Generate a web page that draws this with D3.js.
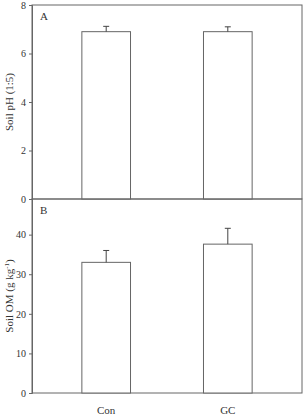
<!DOCTYPE html>
<html>
<head>
<meta charset="utf-8">
<script src="https://cdn.jsdelivr.net/npm/d3@7"></script>
<style>
  body { margin: 0; background: #fff; }
  svg text { font-family: "Liberation Serif", "DejaVu Serif", serif; fill: #333; }
</style>
</head>
<body>
<div id="chart"></div>
<script>
// data
var groups = ["Con", "GC"];
var phMean = [6.9, 6.9];
var phErr = [0.22, 0.2];
var omMean = [33.0, 37.6];
var omErr = [3.0, 4.0];
var phTicks = [0, 2, 4, 6, 8];
var omTicks = [0, 10, 20, 30, 40];

var width = 307, height = 416;
var left = 32, right = 302;
var lineColor = "#666";

var svg = d3.select("#chart")
  .append("svg")
  .attr("width", width)
  .attr("height", height);

var x = d3.scaleBand()
  .domain(groups)
  .range([left, right])
  .paddingInner(0.6)
  .paddingOuter(0.41);

// one panel, drawn from its own arrays
function panel(top, bottom, maxY, means, errs, ticks, letter, title) {
  var y = d3.scaleLinear().domain([0, maxY]).range([bottom, top]);
  var g = svg.append("g");

  // frame
  g.append("rect")
    .attr("x", left).attr("y", top)
    .attr("width", right - left).attr("height", bottom - top)
    .attr("fill", "none").attr("stroke", lineColor).attr("stroke-width", 1);

  var ax = g.append("g")
    .attr("transform", "translate(" + left + ",0)")
    .call(d3.axisLeft(y).tickValues(ticks).tickSize(3).tickPadding(3).tickFormat(d3.format("d")));
  ax.select(".domain").attr("stroke", lineColor);
  ax.selectAll(".tick line").attr("stroke", lineColor);
  ax.selectAll("text").attr("font-size", 10).attr("font-family", "Liberation Serif").attr("fill", "#333");

  // bars
  g.selectAll("rect.bar")
    .data(groups)
    .enter().append("rect")
    .attr("class", "bar")
    .attr("x", function(d) { return x(d); })
    .attr("y", function(d, i) { return y(means[i]); })
    .attr("width", x.bandwidth())
    .attr("height", function(d, i) { return y(0) - y(means[i]); })
    .attr("fill", "#fff")
    .attr("stroke", lineColor);

  // error bars (upper only)
  var eb = g.selectAll("g.err")
    .data(groups)
    .enter().append("g")
    .attr("class", "err");
  eb.append("line")
    .attr("x1", function(d) { return x(d) + x.bandwidth() / 2; })
    .attr("x2", function(d) { return x(d) + x.bandwidth() / 2; })
    .attr("y1", function(d, i) { return y(means[i]); })
    .attr("y2", function(d, i) { return y(means[i] + errs[i]); })
    .attr("stroke", "#444");
  eb.append("line")
    .attr("x1", function(d) { return x(d) + x.bandwidth() / 2 - 3; })
    .attr("x2", function(d) { return x(d) + x.bandwidth() / 2 + 3; })
    .attr("y1", function(d, i) { return y(means[i] + errs[i]); })
    .attr("y2", function(d, i) { return y(means[i] + errs[i]); })
    .attr("stroke", "#444");

  g.append("text")
    .attr("x", left + 8).attr("y", top + 15)
    .attr("font-size", 11)
    .text(letter);

  var t = g.append("text")
    .attr("transform", "translate(13," + ((top + bottom) / 2) + ") rotate(-90)")
    .attr("text-anchor", "middle")
    .attr("font-size", 11);
  title(t);
  return y;
}

panel(5, 199, 8, phMean, phErr, phTicks, "A", function(t) { t.text("Soil pH (1:5)"); });
panel(199, 393, 49, omMean, omErr, omTicks, "B", function(t) {
  t.append("tspan").text("Soil OM (g kg");
  t.append("tspan").attr("font-size", 7).attr("dy", -4).text("-1");
  t.append("tspan").attr("dy", 4).text(")");
});

// category labels
svg.selectAll("text.cat")
  .data(groups)
  .enter().append("text")
  .attr("class", "cat")
  .attr("x", function(d) { return x(d) + x.bandwidth() / 2; })
  .attr("y", 414)
  .attr("text-anchor", "middle")
  .attr("font-size", 11)
  .text(function(d) { return d; });
</script>
</body>
</html>
